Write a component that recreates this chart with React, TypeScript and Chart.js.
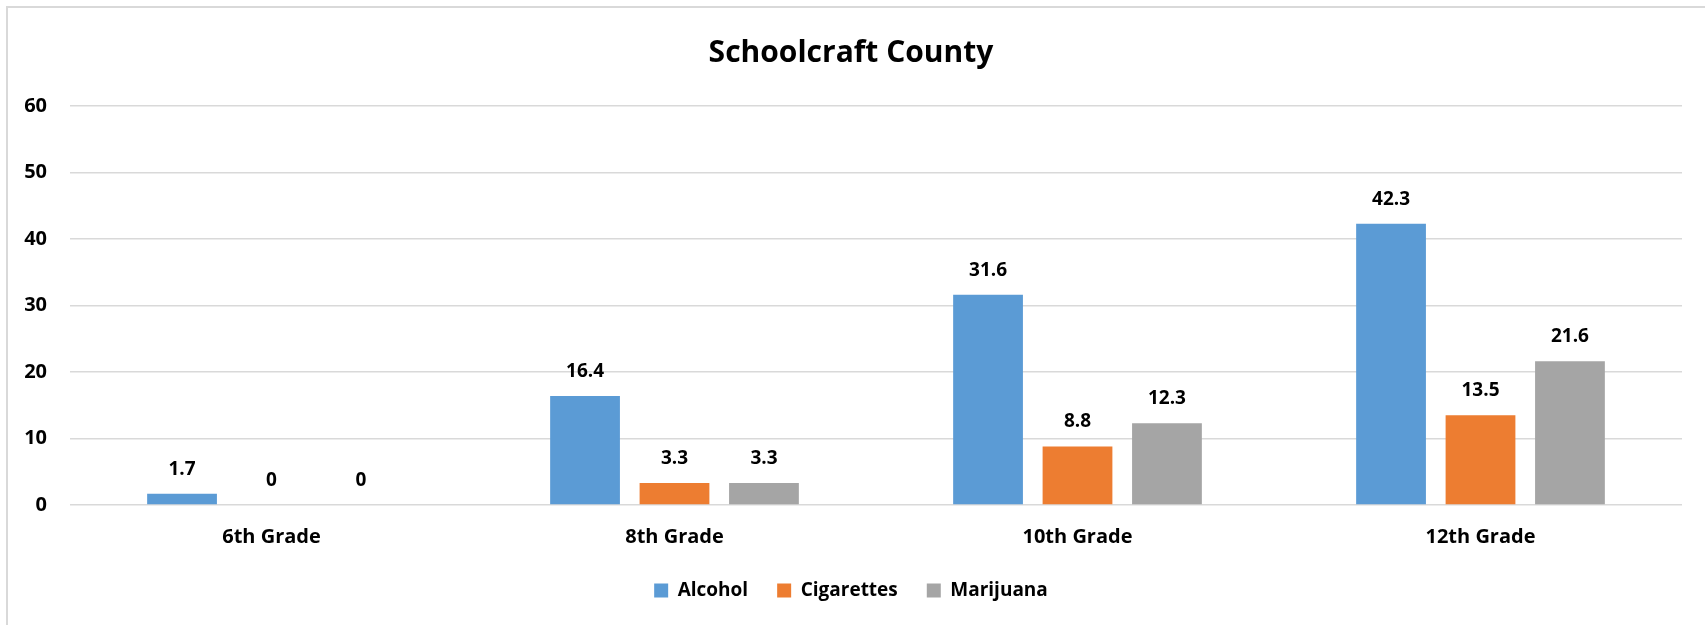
import React, { useEffect, useRef } from 'react';
import { Chart, registerables, Plugin } from 'chart.js';

Chart.register(...registerables);

const grades = ['6th Grade', '8th Grade', '10th Grade', '12th Grade'];
const alcohol = [1.7, 16.4, 31.6, 42.3];
const cigarettes = [0, 3.3, 8.8, 13.5];
const marijuana = [0, 3.3, 12.3, 21.6];
const yTicks = [0, 10, 20, 30, 40, 50, 60];

const FONT = "'Open Sans', 'Liberation Sans', sans-serif";

// simple value labels above each bar (no datalabels plugin available)
const valueLabels: Plugin<'bar'> = {
  id: 'valueLabels',
  afterDatasetsDraw(chart) {
    const ctx = chart.ctx;
    ctx.save();
    ctx.font = `bold 19px ${FONT}`;
    ctx.fillStyle = '#000';
    ctx.textAlign = 'center';
    ctx.textBaseline = 'bottom';
    chart.data.datasets.forEach((ds, i) => {
      const meta = chart.getDatasetMeta(i);
      meta.data.forEach((bar, j) => {
        const v = ds.data[j] as number;
        ctx.fillText(String(v), bar.x, bar.y - 15);
      });
    });
    ctx.restore();
  },
};

const App: React.FC = () => {
  const chartRef = useRef<HTMLCanvasElement>(null);

  useEffect(() => {
    document.body.style.margin = '0';
    if (!chartRef.current) return;

    const chart = new Chart(chartRef.current, {
      type: 'bar',
      data: {
        labels: grades,
        datasets: [
          { label: 'Alcohol', data: alcohol, backgroundColor: '#5B9BD5' },
          { label: 'Cigarettes', data: cigarettes, backgroundColor: '#ED7D31' },
          { label: 'Marijuana', data: marijuana, backgroundColor: '#A5A5A5' },
        ],
      },
      options: {
        responsive: false,
        animation: false,
        datasets: {
          bar: { categoryPercentage: 0.666, barPercentage: 0.78, borderWidth: 0 },
        },
        layout: { padding: { left: 20, right: 23, top: 0, bottom: 15 } },
        scales: {
          x: {
            grid: { display: false },
            border: { display: false },
            afterFit: (axis) => {
              axis.height -= 9;
            },
            ticks: { color: '#000', font: { family: FONT, size: 20, weight: 'bold' }, padding: 12 },
          },
          y: {
            min: 0,
            max: 60,
            afterBuildTicks: (axis) => {
              axis.ticks = yTicks.map((v) => ({ value: v }));
            },
            afterFit: (axis) => {
              axis.width = 50;
            },
            grid: { color: '#d9d9d9', lineWidth: 1.5, drawTicks: false },
            border: { display: false },
            ticks: { color: '#000', font: { family: FONT, size: 20, weight: 'bold' }, padding: 23 },
          },
        },
        plugins: {
          title: {
            display: true,
            text: 'Schoolcraft County',
            color: '#000',
            font: { family: FONT, size: 30, weight: 'bold' },
            padding: { top: 35, bottom: 35 },
          },
          legend: {
            position: 'bottom',
            labels: {
              color: '#000',
              font: { family: FONT, size: 19, weight: 'bold' },
              boxWidth: 14,
              boxHeight: 14,
              padding: 29,
            },
          },
          tooltip: { enabled: false },
        },
      },
      plugins: [valueLabels],
    });

    return () => {
      chart.destroy();
    };
  }, []);

  return (
    <div style={{ position: 'relative', width: 1705, height: 625, overflow: 'hidden', background: '#fff' }}>
      <div
        style={{
          position: 'absolute',
          left: 6,
          top: 6,
          width: 1720,
          height: 640,
          borderLeft: '2px solid #d9d9d9',
          borderTop: '2px solid #d9d9d9',
        }}
      />
      <canvas ref={chartRef} width={1705} height={625} style={{ position: 'absolute', left: 0, top: 0 }} />
    </div>
  );
};

export default App;
